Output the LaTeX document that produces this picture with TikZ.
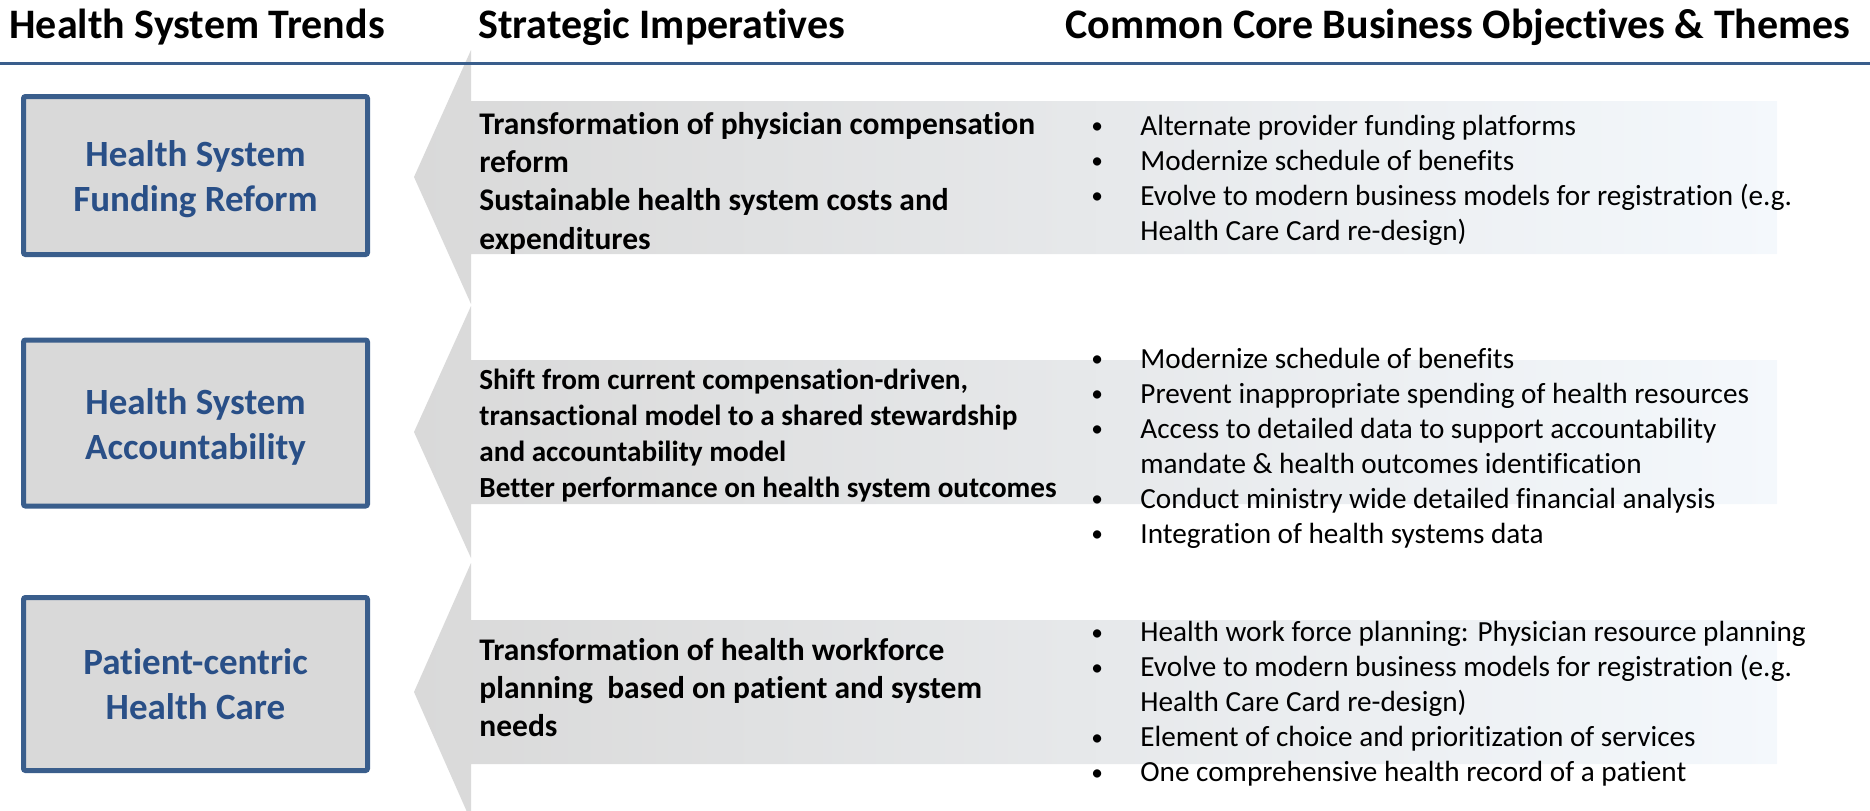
\documentclass[tikz,border=0pt]{standalone}
\usepackage{fontspec}
\setmainfont{Carlito}[Ligatures=NoCommon]
\usepackage{tikz}

\definecolor{trendblue}{RGB}{58,94,140}
\definecolor{trendtext}{RGB}{41,79,135}
\definecolor{headgray}{RGB}{217,217,217}
\definecolor{shaftend}{RGB}{244,248,252}

\tikzstyle{title} = [anchor=base west, inner sep=0pt, font=\fontsize{21}{25}\selectfont\bfseries]
\tikzstyle{trend} = [rectangle, draw=trendblue, line width=2.5pt, fill=headgray, rounded corners=1pt, minimum width=172pt, align=center, text=trendtext, font=\fontsize{18.5}{22.5}\selectfont\bfseries]
\tikzstyle{imparrow} = [left color=headgray, right color=shaftend]
\tikzstyle{imp} = [anchor=west, inner sep=0pt, align=left, font=\fontsize{15.75}{19.15}\selectfont\bfseries]
\tikzstyle{obj} = [anchor=west, inner sep=0pt, align=left, font=\fontsize{14.6}{17.5}\selectfont]

\newcommand{\objitem}{\makebox[24.5pt][l]{\raisebox{0.06em}{\scalebox{0.8}{\textbullet}}}}
\newcommand{\objcont}{\hspace*{24.5pt}}
% pushes the two-line box titles a little lower
\newcommand{\trendtop}{\rule{0pt}{16.5pt}}

\begin{document}
\begin{tikzpicture}[x=0.5pt, y=-0.5pt]
		\useasboundingbox (0,0) rectangle (1870,810);
		
		% big arrows pointing back at the trends
		\path [imparrow] (414,177) -- (471,50) -- (471,101) -- (1777,101) -- (1777,254) -- (471,254) -- (471,304) -- cycle;
		\path [imparrow] (414,432) -- (471,306) -- (471,360) -- (1777,360) -- (1777,504) -- (471,504) -- (471,558) -- cycle;
		\path [imparrow] (414,692) -- (471,563) -- (471,620) -- (1777,620) -- (1777,764) -- (471,764) -- (471,821) -- cycle;
		
		% column titles
		\draw [trendblue, line width=1.5pt] (0,63) -- (1870,63);
		\node [title] (hTrends) at (9,38) {Health System Trends};
		\node [title] (hImp) at (478,38) {Strategic Imperatives};
		\node [title] (hObj) at (1065,38) {Common Core Business Objectives \& Themes};
		
		% trends
		\node [trend, minimum height=79pt] (funding) at (195.5,175.5) {\trendtop Health System\\Funding Reform};
		\node [trend, below of=funding, node distance=123.75pt, minimum height=83pt] (account) {\trendtop Health System\\Accountability};
		\node [trend, below of=account, node distance=130.5pt, minimum height=86.5pt] (patient) {Patient-centric\\Health Care};
		
		% imperatives
		\node [imp] (imp1) at (479,183) {Transformation of physician compensation\\reform\\Sustainable health system costs and\\expenditures};
		\node [imp, font=\fontsize{14.6}{17.85}\selectfont\bfseries] (imp2) at (479,435.5) {Shift from current compensation-driven,\\transactional model to a shared stewardship\\and accountability model\\Better performance on health system outcomes};
		\node [imp] (imp3) at (479,687.5) {Transformation of health workforce\\planning\ \ based on patient and system\\needs};
		
		% objectives and themes
		\node [obj] (obj1) at (1091,180) {\objitem Alternate provider funding platforms\\\objitem Modernize schedule of benefits\\\objitem Evolve to modern business models for registration (e.g.\\\objcont Health Care Card re-design)};
		\node [obj] (obj2) at (1091,448) {\objitem Modernize schedule of benefits\\\objitem Prevent inappropriate spending of health resources\\\objitem Access to detailed data to support accountability\\\objcont mandate \& health outcomes identification\\\objitem Conduct ministry wide detailed financial analysis\\\objitem Integration of health systems data};
		\node [obj] (obj3) at (1091,704) {\objitem Health work force planning: Physician resource planning\\\objitem Evolve to modern business models for registration (e.g.\\\objcont Health Care Card re-design)\\\objitem Element of choice and prioritization of services\\\objitem One comprehensive health record of a patient};
\end{tikzpicture}
\end{document}
